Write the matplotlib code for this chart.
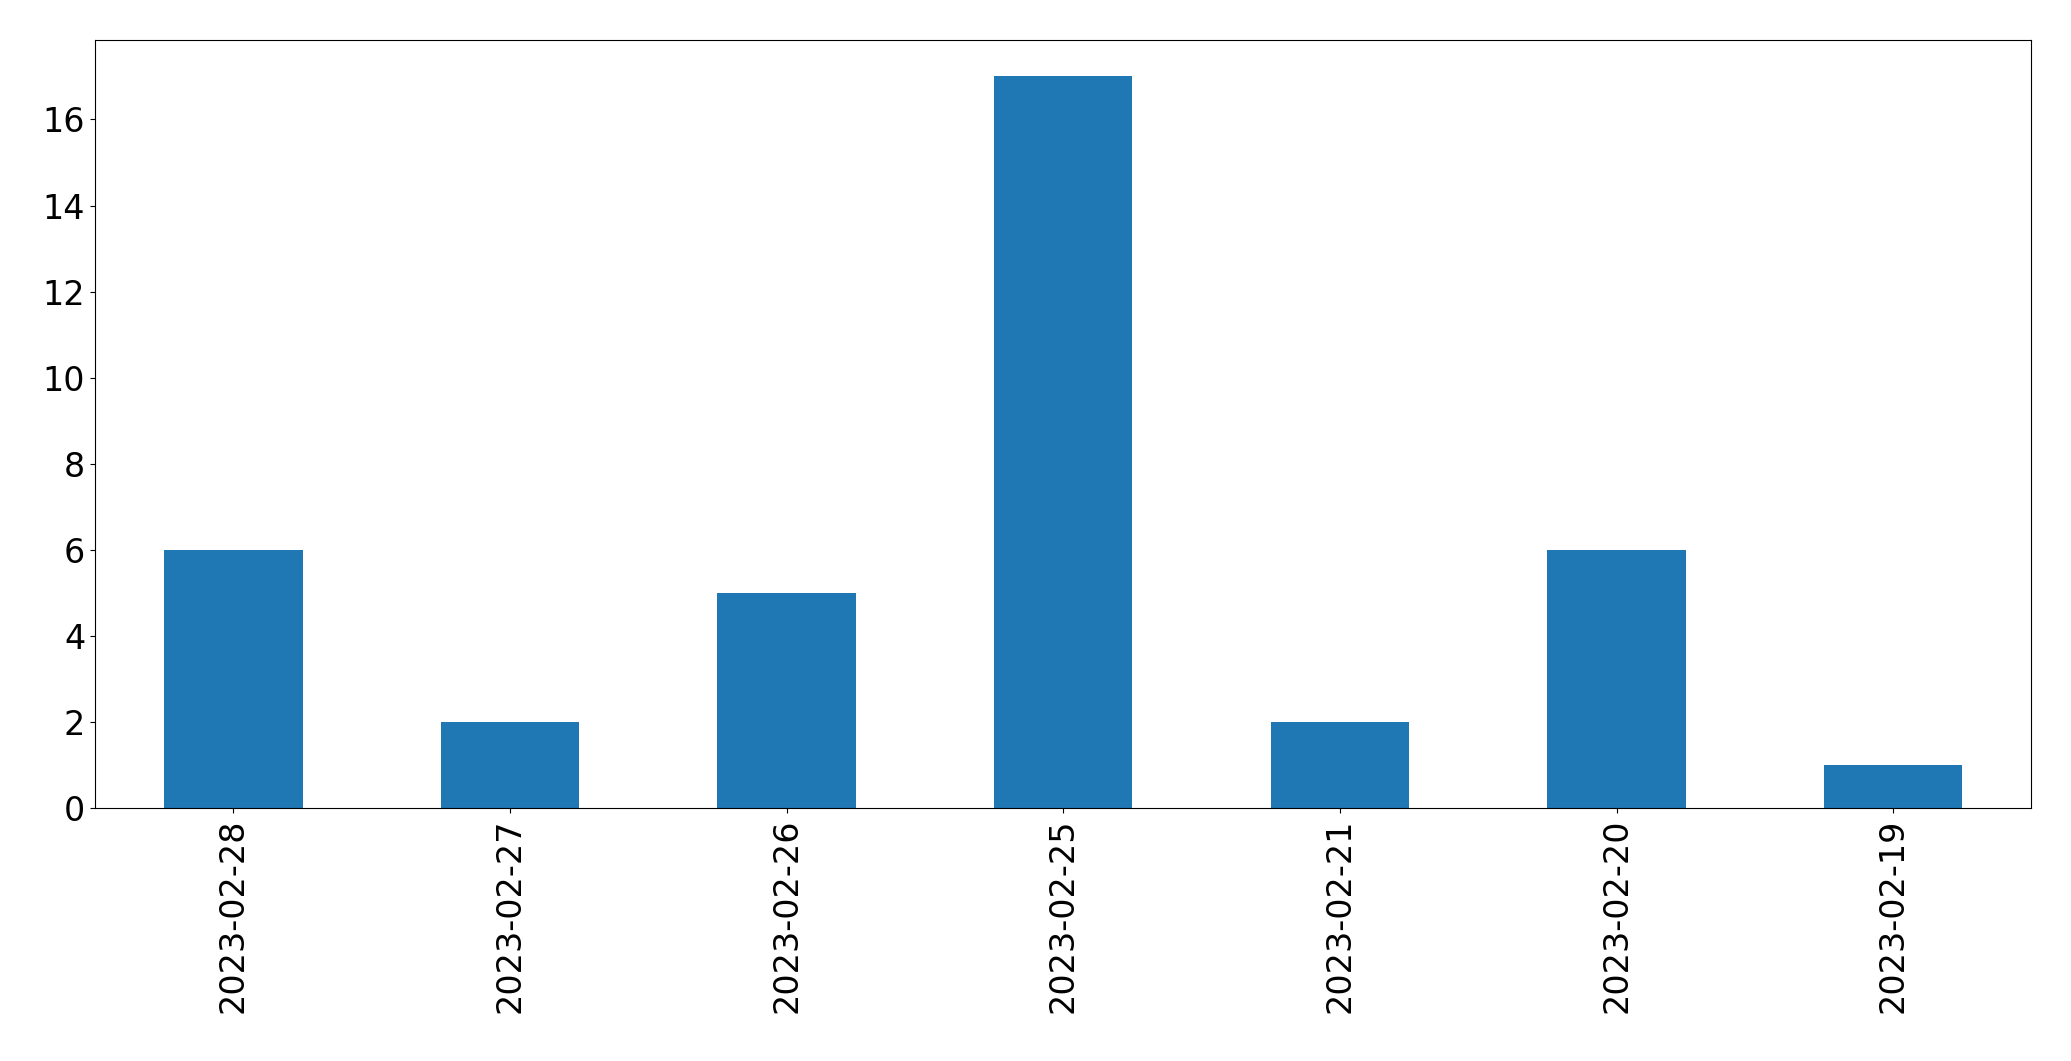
import matplotlib
matplotlib.use("Agg")
import matplotlib.pyplot as plt
import pandas as pd

dates = ["2023-02-28", "2023-02-27", "2023-02-26", "2023-02-25",
         "2023-02-21", "2023-02-20", "2023-02-19"]
counts = [6, 2, 5, 17, 2, 6, 1]

s = pd.Series(counts, index=dates)

fig = plt.figure(figsize=(20.71, 10.61), dpi=100)
ax = fig.add_axes([0.0459, 0.238, 0.935, 0.7246])
s.plot.bar(ax=ax, color="#1f77b4", fontsize=24)
ax.tick_params(axis="both", labelsize=24)
fig.savefig("out.png", dpi=100)
